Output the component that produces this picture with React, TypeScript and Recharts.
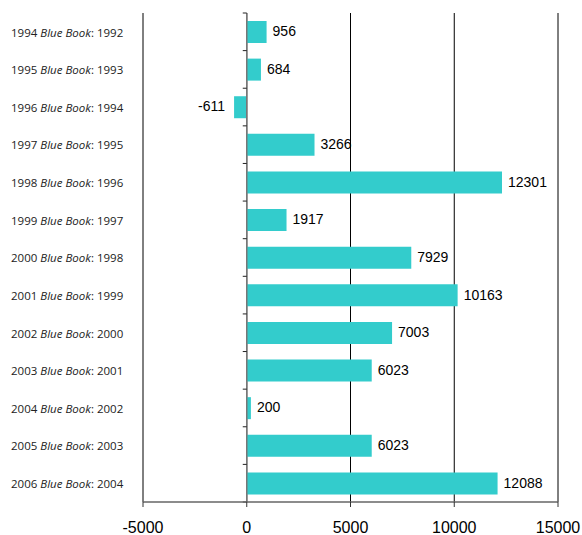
import React from "react"
import { Bar, BarChart, CartesianGrid, LabelList, ReferenceLine, XAxis, YAxis } from "recharts"

// Blue Book edition year and the year its figure refers to
const editions = ["1994", "1995", "1996", "1997", "1998", "1999", "2000", "2001", "2002", "2003", "2004", "2005", "2006"]
const dataYears = ["1992", "1993", "1994", "1995", "1996", "1997", "1998", "1999", "2000", "2001", "2002", "2003", "2004"]
const values = [956, 684, -611, 3266, 12301, 1917, 7929, 10163, 7003, 6023, 200, 6023, 12088]
const xTicks = [-5000, 0, 5000, 10000, 15000]

const data = editions.map((ed, i) => ({
  name: `${ed} Blue Book: ${dataYears[i]}`,
  edition: ed,
  year: dataYears[i],
  value: values[i],
}))

const BAR_COLOR = "#33CCCC"
const VALUE_FONT = "'Liberation Sans', Arial, sans-serif"

function CategoryTick(props: any) {
  const { y, payload } = props
  const [edition, rest] = payload.value.split(" Blue Book")
  return (
    <text x={11} y={y} dy="0.42em" textAnchor="start" fontFamily="'Open Sans', sans-serif" fontSize={11.5} fill="#222">
      <tspan>{edition} </tspan>
      <tspan fontStyle="italic">Blue Book</tspan>
      <tspan>{rest}</tspan>
    </text>
  )
}

// value next to the end of the bar, left side for negatives
function ValueLabel(props: any) {
  const { x, y, width, height, value } = props
  const neg = value < 0
  const tx = neg ? x + width - 9 : x + width + 6
  return (
    <text x={tx} y={y + height / 2} dy="0.3em" textAnchor={neg ? "end" : "start"} fontFamily={VALUE_FONT} fontSize={14} fill="#000">
      {value}
    </text>
  )
}

// zero line with small ticks between the categories
function ZeroLine(props: any) {
  const { x1, y1, x2, y2 } = props
  const n = data.length
  const step = (y2 - y1) / n
  const marks = Array.from({ length: n + 1 }, (_, i) => y1 + i * step)
  return (
    <g>
      <line x1={x1} y1={y1} x2={x2} y2={y2} stroke="#777" strokeWidth={1.5} />
      {marks.map((my, i) => (
        <line key={i} x1={x1 - 4} y1={my} x2={x1} y2={my} stroke="#222" strokeWidth={1} />
      ))}
    </g>
  )
}

export default function App() {
  return (
    <div style={{ position: "absolute", left: 0, top: 0 }}>
      <BarChart
        width={582}
        height={535}
        data={data}
        layout="vertical"
        margin={{ top: 13, right: 24, bottom: 0, left: 0 }}
      >
        <CartesianGrid horizontal={false} vertical stroke="#000" strokeWidth={1} />
        <XAxis
          type="number"
          domain={[-5000, 15000]}
          ticks={xTicks}
          height={33}
          tickSize={5}
          tickMargin={15}
          axisLine={{ stroke: "#666", strokeWidth: 1.5 }}
          tickLine={{ stroke: "#333" }}
          tick={{ fontFamily: VALUE_FONT, fontSize: 16, fill: "#000" }}
        />
        <YAxis
          type="category"
          dataKey="name"
          width={143}
          axisLine={false}
          tickLine={false}
          tick={<CategoryTick />}
          interval={0}
        />
        <Bar dataKey="value" fill={BAR_COLOR} barSize={22} isAnimationActive={false}>
          <LabelList dataKey="value" content={<ValueLabel />} />
        </Bar>
        <ReferenceLine x={0} shape={<ZeroLine />} />
      </BarChart>
    </div>
  )
}
